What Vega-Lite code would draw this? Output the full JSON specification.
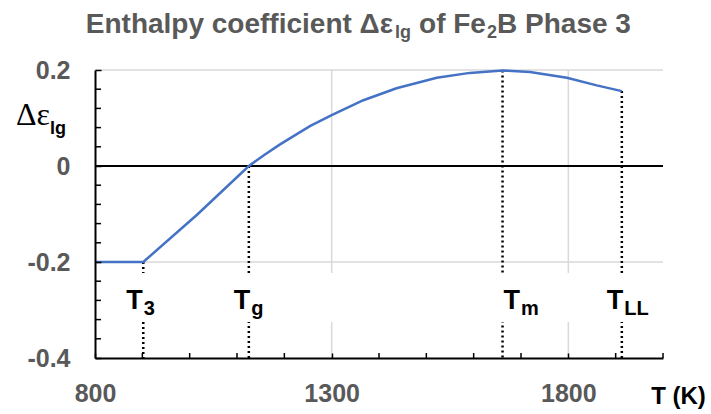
{
  "$schema": "https://vega.github.io/schema/vega-lite/v6.json",
  "description": "Enthalpy coefficient Δεlg of Fe2B Phase 3",
  "width": 568,
  "height": 288,
  "autosize": {"type": "none"},
  "padding": {"left": 95, "top": 70, "right": 48, "bottom": 56},
  "background": "white",
  "config": {
    "view": {"stroke": null},
    "text": {"font": "Liberation Sans", "fontWeight": "bold", "baseline": "alphabetic"}
  },
  "datasets": {
    "curve": [
      {"T": 800, "value": -0.2},
      {"T": 902, "value": -0.2},
      {"T": 1015, "value": -0.102},
      {"T": 1125, "value": 0},
      {"T": 1156, "value": 0.022},
      {"T": 1191, "value": 0.045},
      {"T": 1254, "value": 0.083},
      {"T": 1300, "value": 0.106},
      {"T": 1367, "value": 0.137},
      {"T": 1437, "value": 0.162},
      {"T": 1522, "value": 0.184},
      {"T": 1592, "value": 0.194},
      {"T": 1661, "value": 0.199},
      {"T": 1719, "value": 0.196},
      {"T": 1797, "value": 0.184},
      {"T": 1860, "value": 0.168},
      {"T": 1913, "value": 0.156}
    ],
    "markers": [
      {"name": "T3", "T": 902, "value": -0.2, "sub": "3", "labelT": 901},
      {"name": "Tg", "T": 1125, "value": 0, "sub": "g", "labelT": 1128},
      {"name": "Tm", "T": 1661, "value": 0.199, "sub": "m", "labelT": 1698},
      {"name": "TLL", "T": 1913, "value": 0.156, "sub": "LL", "labelT": 1916}
    ],
    "vgrid": [{"T": 1300}, {"T": 1800}],
    "hgrid": [{"value": 0.2}, {"value": -0.2}],
    "xminor": [
      {"T": 900}, {"T": 1000}, {"T": 1100}, {"T": 1200}, {"T": 1400}, {"T": 1500},
      {"T": 1600}, {"T": 1700}, {"T": 1900}, {"T": 2000}
    ],
    "yminor": [
      {"value": -0.36}, {"value": -0.32}, {"value": -0.28}, {"value": -0.24},
      {"value": -0.16}, {"value": -0.12}, {"value": -0.08}, {"value": -0.04},
      {"value": 0.04}, {"value": 0.08}, {"value": 0.12}, {"value": 0.16}
    ]
  },
  "layer": [
    {
      "data": {"name": "curve"},
      "mark": {"type": "line", "color": "#4472C4", "strokeWidth": 2.5, "opacity": 0},
      "encoding": {
        "x": {
          "field": "T",
          "type": "quantitative",
          "scale": {"domain": [800, 2000], "nice": false, "zero": false},
          "axis": {
            "values": [800, 1300, 1800],
            "format": "d",
            "labelFont": "Liberation Sans",
            "labelFontSize": 25,
            "labelFontWeight": "bold",
            "labelColor": "#595959",
            "labelPadding": 28,
            "labelFlush": false,
            "labelOverlap": false,
            "tickSize": -5,
            "tickColor": "black",
            "tickWidth": 1.5,
            "domainColor": "black",
            "domainWidth": 2,
            "grid": false,
            "zindex": 1,
            "titleFont": "Liberation Sans",
            "titleFontSize": 24,
            "titleFontWeight": "bold",
            "titleColor": "black",
            "titleX": 583,
            "titleY": 45,
            "titleAlign": "center",
            "titleBaseline": "alphabetic"
          },
          "title": "T (K)"
        },
        "y": {
          "field": "value",
          "type": "quantitative",
          "scale": {"domain": [-0.4, 0.2], "nice": false, "zero": false},
          "axis": {
            "values": [-0.4, -0.2, 0, 0.2],
            "labelExpr": "datum.value < -0.3 ? '-0.4' : datum.value < -0.1 ? '-0.2' : datum.value < 0.1 ? '0' : '0.2'",
            "labelFont": "Liberation Sans",
            "labelFontSize": 25,
            "labelFontWeight": "bold",
            "labelColor": "#595959",
            "labelPadding": 31,
            "labelOverlap": false,
            "tickSize": -6,
            "tickColor": "black",
            "tickWidth": 1.5,
            "domainColor": "black",
            "domainWidth": 2,
            "grid": false,
            "zindex": 1
          },
          "title": null
        }
      }
    },
    {
      "data": {"name": "vgrid"},
      "mark": {"type": "rule", "color": "#d9d9d9", "strokeWidth": 1.5},
      "encoding": {
        "x": {"field": "T", "type": "quantitative", "title": "T (K)"}
      }
    },
    {
      "data": {"name": "hgrid"},
      "mark": {"type": "rule", "color": "#d9d9d9", "strokeWidth": 1.5},
      "encoding": {
        "y": {"field": "value", "type": "quantitative", "title": null}
      }
    },
    {
      "data": {"values": [{"value": 0}]},
      "mark": {"type": "rule", "color": "black", "strokeWidth": 2},
      "encoding": {"y": {"field": "value", "type": "quantitative", "title": null}}
    },
    {
      "data": {"name": "markers"},
      "mark": {"type": "rule", "color": "black", "strokeWidth": 2.5, "strokeDash": [2, 3]},
      "encoding": {
        "x": {"field": "T", "type": "quantitative", "title": "T (K)"},
        "y": {"field": "value", "type": "quantitative", "title": null},
        "y2": {"datum": -0.4}
      }
    },
    {
      "data": {"values": [{}]},
      "mark": {"type": "rect", "fill": "white"},
      "encoding": {
        "x": {"datum": 801, "type": "quantitative"},
        "x2": {"datum": 2000},
        "y": {"datum": -0.223, "type": "quantitative"},
        "y2": {"datum": -0.325}
      }
    },
    {
      "data": {"name": "xminor"},
      "mark": {"type": "rule", "color": "black", "strokeWidth": 1.5},
      "encoding": {
        "x": {"field": "T", "type": "quantitative", "title": "T (K)"},
        "y": {"datum": -0.4, "type": "quantitative"},
        "y2": {"datum": -0.3896}
      }
    },
    {
      "data": {"name": "yminor"},
      "mark": {"type": "rule", "color": "black", "strokeWidth": 1.5},
      "encoding": {
        "y": {"field": "value", "type": "quantitative", "title": null},
        "x": {"datum": 800, "type": "quantitative"},
        "x2": {"datum": 812.7}
      }
    },
    {
      "data": {"name": "curve"},
      "mark": {"type": "line", "color": "#4472C4", "strokeWidth": 2.5},
      "encoding": {
        "x": {"field": "T", "type": "quantitative", "title": "T (K)"},
        "y": {"field": "value", "type": "quantitative", "title": null}
      }
    },
    {
      "data": {"name": "markers"},
      "mark": {"type": "text", "fontSize": 27, "color": "black", "align": "right"},
      "encoding": {
        "x": {"field": "labelT", "type": "quantitative", "title": "T (K)"},
        "y": {"datum": -0.298, "type": "quantitative"},
        "text": {"value": "T"}
      }
    },
    {
      "data": {"name": "markers"},
      "mark": {"type": "text", "fontSize": 20, "color": "black", "align": "left", "dx": 1},
      "encoding": {
        "x": {"field": "labelT", "type": "quantitative", "title": "T (K)"},
        "y": {"datum": -0.31, "type": "quantitative"},
        "text": {"field": "sub"}
      }
    },
    {
      "data": {"values": [{}]},
      "mark": {"type": "text", "font": "Liberation Serif", "fontWeight": "normal", "fontSize": 32, "color": "black", "align": "right"},
      "encoding": {
        "x": {"datum": 705, "type": "quantitative"},
        "y": {"datum": 0.0854, "type": "quantitative"},
        "text": {"value": "Δε"}
      }
    },
    {
      "data": {"values": [{}]},
      "mark": {"type": "text", "fontSize": 18, "color": "black", "align": "left"},
      "encoding": {
        "x": {"datum": 705, "type": "quantitative"},
        "y": {"datum": 0.0667, "type": "quantitative"},
        "text": {"value": "lg"}
      }
    },
    {
      "data": {"values": [{}]},
      "mark": {"type": "text", "fontSize": 28, "color": "#595959", "align": "right"},
      "encoding": {
        "x": {"datum": 1429.6, "type": "quantitative"},
        "y": {"datum": 0.2771, "type": "quantitative"},
        "text": {"value": "Enthalpy coefficient Δε"}
      }
    },
    {
      "data": {"values": [{}]},
      "mark": {"type": "text", "fontSize": 18, "color": "#595959", "align": "left"},
      "encoding": {
        "x": {"datum": 1433.8, "type": "quantitative"},
        "y": {"datum": 0.2667, "type": "quantitative"},
        "text": {"value": "lg"}
      }
    },
    {
      "data": {"values": [{}]},
      "mark": {"type": "text", "fontSize": 28, "color": "#595959", "align": "left"},
      "encoding": {
        "x": {"datum": 1484.6, "type": "quantitative"},
        "y": {"datum": 0.2771, "type": "quantitative"},
        "text": {"value": "of Fe"}
      }
    },
    {
      "data": {"values": [{}]},
      "mark": {"type": "text", "fontSize": 18, "color": "#595959", "align": "left"},
      "encoding": {
        "x": {"datum": 1628.2, "type": "quantitative"},
        "y": {"datum": 0.2667, "type": "quantitative"},
        "text": {"value": "2"}
      }
    },
    {
      "data": {"values": [{}]},
      "mark": {"type": "text", "fontSize": 28, "color": "#595959", "align": "left"},
      "encoding": {
        "x": {"datum": 1649.4, "type": "quantitative"},
        "y": {"datum": 0.2771, "type": "quantitative"},
        "text": {"value": "B Phase 3"}
      }
    }
  ]
}
